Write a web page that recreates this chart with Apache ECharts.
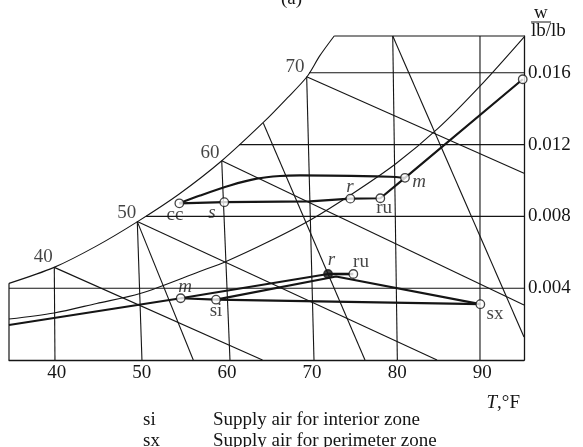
<!DOCTYPE html>
<html>
<head>
<meta charset="utf-8">
<script src="https://cdn.jsdelivr.net/npm/echarts@6/dist/echarts.min.js"></script>
<style>html,body{margin:0;padding:0;background:#fff}#chart{width:583px;height:447px}</style>
</head>
<body>
<div id="chart"></div>
<script>
// tick labels
var tempTicks = [40, 50, 60, 70, 80, 90];
var humTicks = [0.004, 0.008, 0.012, 0.016];

// saturation curve (T degF, w lb/lb)
var satT = [34.4, 39.7, 44.6, 49.5, 54.4, 59.4, 64.4, 67.1, 69.4, 70.9, 72.6];
var satW = [0.00427, 0.00516, 0.00633, 0.00771, 0.00925, 0.0111, 0.01329, 0.0146, 0.01578, 0.01694, 0.01805];

// relative humidity curve
var rhT = [34.4, 39.7, 44.7, 49.8, 56.8, 59.9, 64.8, 69.8, 74.7, 79.8, 84.8, 89.7, 94.9];
var rhW = [0.00228, 0.00262, 0.00315, 0.0037, 0.00493, 0.00549, 0.00657, 0.0078, 0.00925, 0.01092, 0.0129, 0.01524, 0.01799];

// constant w lines, start on saturation
var gridW = [0.004, 0.008, 0.012, 0.016, 0.01805];
var gridStartT = [34.4, 50.5, 61.45, 69.65, 72.6];

// dry bulb lines (top point -> bottom)
var dbTopT = [39.72, 49.47, 59.39, 69.37, 79.48, 89.73];
var dbTopW = [0.00516, 0.00771, 0.0111, 0.01578, 0.01805, 0.01805];
var dbBotT = [39.8, 50.02, 60.36, 70.23, 80.02, 89.73];

// wet bulb lines
var wbStartT = [39.72, 49.47, 59.39, 69.37];
var wbStartW = [0.00516, 0.00771, 0.0111, 0.01578];
var wbEndT = [64.18, 84.68, 94.9, 94.9];
var wbEndW = [0, 0, 0.00306, 0.0104];
var wbLabels = ['40', '50', '60', '70'];
var wbLabelT = [38.43, 48.23, 58.01, 68.0];
var wbLabelW = [0.00575, 0.00819, 0.01153, 0.0163];

// specific volume lines
var volStartT = [49.47, 64.28, 79.48];
var volStartW = [0.00771, 0.01319, 0.01805];
var volEndT = [56.05, 76.22, 94.9];
var volEndW = [0, 0, 0.00128];

// summer process: cc, s, (bend), r, ru, m, outdoor
var sumT = [54.41, 59.69, 69.76, 74.5, 78.02, 80.92, 94.75];
var sumW = [0.00873, 0.00879, 0.00884, 0.00899, 0.00901, 0.01015, 0.01564];
var coilT = [54.41, 56.84, 60.36, 63.5, 66.24, 68.59, 79.16, 80.92];
var coilW = [0.00873, 0.00916, 0.00972, 0.0101, 0.01025, 0.01028, 0.01021, 0.01015];

// winter process
var winMixT = [34.4, 54.57, 71.88];
var winMixW = [0.00195, 0.00344, 0.00479];
var winRetT = [71.88, 74.85];
var winRetW = [0.00479, 0.00479];
var winSupT = [54.57, 58.72, 89.77];
var winSupW = [0.00344, 0.00336, 0.00311];
var winHeatT = [58.72, 72.82, 89.77];
var winHeatW = [0.00336, 0.00465, 0.00311];

// state points
var ptT = [54.41, 59.69, 74.5, 78.02, 80.92, 94.75, 54.57, 58.72, 71.88, 74.85, 89.77];
var ptW = [0.00873, 0.00879, 0.00899, 0.00901, 0.01015, 0.01564, 0.00344, 0.00336, 0.00479, 0.00479, 0.00311];
var ptFilled = [0, 0, 0, 0, 0, 0, 0, 0, 1, 0, 0];

// point labels
var lblText = ['cc', 's', 'r', 'ru', 'm', 'm', 'si', 'r', 'ru', 'sx'];
var lblItalic = [0, 1, 1, 0, 1, 1, 0, 1, 0, 0];
var lblT = [53.9, 58.25, 74.46, 78.46, 82.57, 55.08, 58.72, 72.29, 75.75, 91.5];
var lblW = [0.00808, 0.00819, 0.00961, 0.00847, 0.00992, 0.00407, 0.00273, 0.00557, 0.00546, 0.00256];

var ink = '#151515';
var font = 'Liberation Serif';

function zip(a, b) {
    return a.map(function (v, i) { return [v, b[i]]; });
}
function line(data, width, smooth) {
    return {
        type: 'line', data: data, symbol: 'none', clip: false, silent: true,
        smooth: smooth || false, z: width > 1.5 ? 4 : 2,
        lineStyle: { color: ink, width: width }
    };
}

var series = [];
series.push(line(zip(satT, satW), 1.1, 0.3));
series.push(line(zip(rhT, rhW), 1.1, 0.3));
series.push(line([[34.4, satW[0]], [34.4, 0]], 1.2));
gridW.forEach(function (w, i) { series.push(line([[gridStartT[i], w], [94.9, w]], 1.1)); });
dbTopT.forEach(function (t, i) { series.push(line([[t, dbTopW[i]], [dbBotT[i], 0]], 1.1)); });
wbStartT.forEach(function (t, i) { series.push(line([[t, wbStartW[i]], [wbEndT[i], wbEndW[i]]], 1.1)); });
volStartT.forEach(function (t, i) { series.push(line([[t, volStartW[i]], [volEndT[i], volEndW[i]]], 1.1)); });
series.push(line(zip(sumT, sumW), 2.2));
series.push(line(zip(coilT, coilW), 2.2, 0.3));
series.push(line(zip(winMixT, winMixW), 2.2));
series.push(line(zip(winRetT, winRetW), 2.6));
series.push(line(zip(winSupT, winSupW), 2.2));
series.push(line(zip(winHeatT, winHeatW), 2.2));

series.push({
    type: 'scatter', z: 6, silent: true, clip: false, symbolSize: 8.5,
    data: ptT.map(function (t, i) {
        return {
            value: [t, ptW[i]],
            itemStyle: { color: ptFilled[i] ? ink : '#fff', borderColor: ink, borderWidth: 1.3 }
        };
    })
});
series.push({
    type: 'scatter', z: 7, silent: true, clip: false, symbolSize: 0,
    data: lblText.map(function (s, i) {
        return {
            value: [lblT[i], lblW[i]], name: s,
            label: { fontStyle: lblItalic[i] ? 'italic' : 'normal' }
        };
    }).concat(wbLabels.map(function (s, i) {
        return { value: [wbLabelT[i], wbLabelW[i]], name: s };
    })),
    label: {
        show: true, position: 'inside', formatter: '{b}',
        color: ink, fontSize: 19, fontFamily: font
    }
});

var mychart = echarts.init(document.getElementById('chart'));
mychart.setOption({
    animation: false,
    grid: { left: 9, right: 59, top: 36, bottom: 87 },
    xAxis: {
        type: 'value', min: 34.4, max: 94.9,
        splitLine: { show: false },
        axisTick: { show: false },
        axisLine: { lineStyle: { color: ink, width: 1.3 } },
        axisLabel: {
            customValues: tempTicks, margin: 4,
            color: ink, fontSize: 19, fontFamily: font
        }
    },
    yAxis: {
        type: 'value', position: 'right', min: 0, max: 0.01805,
        splitLine: { show: false },
        axisTick: { show: false },
        axisLine: { show: true, lineStyle: { color: ink, width: 1.3 } },
        axisLabel: {
            customValues: humTicks, margin: 4,
            color: ink, fontSize: 19, fontFamily: font,
            formatter: function (v) { return v.toFixed(3); }
        }
    },
    graphic: [
        { type: 'text', left: 'center', top: -10, style: { text: '(a)', fill: ink, font: '19px ' + font } },
        { type: 'text', x: 534, y: 13, style: { text: 'w', fill: ink, font: '19px ' + font, verticalAlign: 'middle' } },
        { type: 'line', shape: { x1: 531, y1: 22, x2: 551, y2: 22 }, style: { stroke: ink, lineWidth: 1 } },
        { type: 'text', x: 531, y: 31, style: { text: 'lb/lb', fill: ink, font: '19px ' + font, verticalAlign: 'middle' } },
        {
            type: 'text', x: 520, y: 403,
            style: {
                text: '{i|T},°F', fill: ink, font: '19px ' + font, align: 'right', verticalAlign: 'middle',
                rich: { i: { fontStyle: 'italic', fontSize: 19, fontFamily: font, fill: ink } }
            }
        },
        { type: 'text', x: 143, y: 420, style: { text: 'si', fill: ink, font: '19px ' + font, verticalAlign: 'middle' } },
        { type: 'text', x: 213, y: 420, style: { text: 'Supply air for interior zone', fill: ink, font: '19px ' + font, verticalAlign: 'middle' } },
        { type: 'text', x: 143, y: 441, style: { text: 'sx', fill: ink, font: '19px ' + font, verticalAlign: 'middle' } },
        { type: 'text', x: 213, y: 441, style: { text: 'Supply air for perimeter zone', fill: ink, font: '19px ' + font, verticalAlign: 'middle' } }
    ],
    series: series
});
</script>
</body>
</html>
